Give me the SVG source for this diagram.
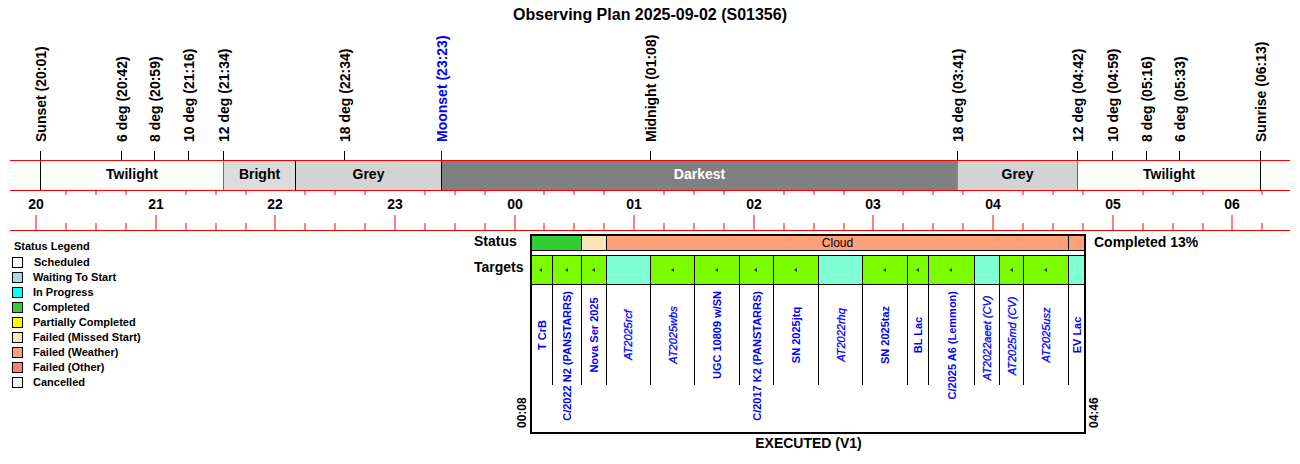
<svg xmlns="http://www.w3.org/2000/svg" width="1300" height="464" viewBox="0 0 1300 464">
<style>
text{font-family:"Liberation Sans",Arial,sans-serif;fill:#000}
.b{font-weight:bold}
.title{font-size:16px;font-weight:bold}
.ev{font-size:14px;font-weight:bold}
.hr{font-size:14px;font-weight:bold;text-anchor:middle}
.seg{font-size:14px;font-weight:bold;text-anchor:middle}
.lg{font-size:11px;font-weight:bold}
.tg{font-size:11px;font-weight:bold;fill:#0000FF;text-anchor:middle}
.at{font-size:11px;font-style:italic;fill:#0000FF;stroke:#0000FF;stroke-width:0.3;text-anchor:middle}
.red{stroke:#FF0000;stroke-width:1;fill:none}
.blk{stroke:#000;stroke-width:1;fill:none}
.cell{stroke:#000;stroke-width:1}
.lbox{stroke:#000;stroke-width:1}
.g{fill:#7CFC00}
.aq{fill:#7FFFD4}
.mk{fill:#333}
</style>

<text class="title" x="650" y="20" text-anchor="middle">Observing Plan 2025-09-02 (S01356)</text>

<g id="events">
  <g class="blk">
    <path d="M40.5 151V190M121.5 151V160M154.5 151V160M188.5 151V160M223.5 151V190M344.5 151V160M650.5 151V160M957.5 151V190M1077.5 151V190M1112.5 151V160M1146.5 151V160M1179.5 151V160M1260.5 151V190"/>
  </g>
  <path d="M441.5 151V160" stroke="#0000FF" stroke-width="1"/>
  <text class="ev" transform="translate(45.5,142) rotate(-90)">Sunset (20:01)</text>
  <text class="ev" transform="translate(126.5,142) rotate(-90)">6 deg (20:42)</text>
  <text class="ev" transform="translate(159.5,142) rotate(-90)">8 deg (20:59)</text>
  <text class="ev" transform="translate(193.5,142) rotate(-90)">10 deg (21:16)</text>
  <text class="ev" transform="translate(228.5,142) rotate(-90)">12 deg (21:34)</text>
  <text class="ev" transform="translate(349.5,142) rotate(-90)">18 deg (22:34)</text>
  <text class="ev" transform="translate(446.5,142) rotate(-90)" style="fill:#0000FF">Moonset (23:23)</text>
  <text class="ev" transform="translate(655.5,142) rotate(-90)">Midnight (01:08)</text>
  <text class="ev" transform="translate(962.5,142) rotate(-90)">18 deg (03:41)</text>
  <text class="ev" transform="translate(1082.5,142) rotate(-90)">12 deg (04:42)</text>
  <text class="ev" transform="translate(1117.5,142) rotate(-90)">10 deg (04:59)</text>
  <text class="ev" transform="translate(1151.5,142) rotate(-90)">8 deg (05:16)</text>
  <text class="ev" transform="translate(1184.5,142) rotate(-90)">6 deg (05:33)</text>
  <text class="ev" transform="translate(1265.5,142) rotate(-90)">Sunrise (06:13)</text>
</g>

<g id="sky-bar">
  <rect x="223.5" y="160" width="72" height="30" fill="#DCDCDC"/>
  <rect x="295.5" y="160" width="146" height="30" fill="#D3D3D3"/>
  <rect x="441.5" y="160" width="516" height="30" fill="#808080"/>
  <rect x="957.5" y="160" width="120" height="30" fill="#D3D3D3"/>
  <path class="blk" d="M295.5 160V190M441.5 160V190"/>
  <text class="seg" x="132" y="179">Twilight</text>
  <text class="seg" x="259.5" y="179">Bright</text>
  <text class="seg" x="368.5" y="179">Grey</text>
  <text class="seg" x="699.5" y="179" style="fill:#FFFFFF">Darkest</text>
  <text class="seg" x="1017.5" y="179">Grey</text>
  <text class="seg" x="1169" y="179">Twilight</text>
</g>

<g id="time-axis">
  <path class="red" d="M10 160.5H1290M10 190.5H1290M10 230.5H1290"/>
  <path class="red" d="M66 190V195M96 190V195M126 190V195M186 190V195M216 190V195M246 190V195M305 190V195M335 190V195M365 190V195M425 190V195M455 190V195M485 190V195M544 190V195M574 190V195M604 190V195M664 190V195M694 190V195M724 190V195M784 190V195M814 190V195M844 190V195M903 190V195M933 190V195M963 190V195M1023 190V195M1053 190V195M1083 190V195M1143 190V195M1173 190V195M1203 190V195M1262 190V195"/>
  <path class="red" d="M36 215V230M156 215V230M275 215V230M395 215V230M515 215V230M634 215V230M754 215V230M873 215V230M993 215V230M1113 215V230M1232 215V230"/>
  <path class="red" d="M66 223V230M96 223V230M126 223V230M186 223V230M216 223V230M246 223V230M305 223V230M335 223V230M365 223V230M425 223V230M455 223V230M485 223V230M544 223V230M574 223V230M604 223V230M664 223V230M694 223V230M724 223V230M784 223V230M814 223V230M844 223V230M903 223V230M933 223V230M963 223V230M1023 223V230M1053 223V230M1083 223V230M1143 223V230M1173 223V230M1203 223V230M1262 223V230"/>
  <text class="hr" x="36" y="209">20</text>
  <text class="hr" x="156" y="209">21</text>
  <text class="hr" x="275" y="209">22</text>
  <text class="hr" x="395" y="209">23</text>
  <text class="hr" x="515" y="209">00</text>
  <text class="hr" x="634" y="209">01</text>
  <text class="hr" x="754" y="209">02</text>
  <text class="hr" x="873" y="209">03</text>
  <text class="hr" x="993" y="209">04</text>
  <text class="hr" x="1113" y="209">05</text>
  <text class="hr" x="1232" y="209">06</text>
</g>

<g id="legend">
  <text class="lg" x="14" y="250">Status Legend</text>
  <g id="lg-scheduled"><rect class="lbox" x="12.5" y="257.5" width="10" height="10" fill="#FFFFFF"/><text class="lg" x="34" y="266">Scheduled</text></g>
  <g id="lg-waiting"><rect class="lbox" x="12.5" y="272.5" width="10" height="10" fill="#ADD8E6"/><text class="lg" x="33" y="281">Waiting To Start</text></g>
  <g id="lg-progress"><rect class="lbox" x="12.5" y="287.5" width="10" height="10" fill="#00FFFF"/><text class="lg" x="33" y="296">In Progress</text></g>
  <g id="lg-completed"><rect class="lbox" x="12.5" y="302.5" width="10" height="10" fill="#32CD32"/><text class="lg" x="33" y="311">Completed</text></g>
  <g id="lg-partial"><rect class="lbox" x="12.5" y="317.5" width="10" height="10" fill="#FFFF00"/><text class="lg" x="33" y="326">Partially Completed</text></g>
  <g id="lg-missed"><rect class="lbox" x="12.5" y="332.5" width="10" height="10" fill="#FFE4B5"/><text class="lg" x="33" y="341">Failed (Missed Start)</text></g>
  <g id="lg-weather"><rect class="lbox" x="12.5" y="347.5" width="10" height="10" fill="#FFA07A"/><text class="lg" x="33" y="356">Failed (Weather)</text></g>
  <g id="lg-other"><rect class="lbox" x="12.5" y="362.5" width="10" height="10" fill="#FA8072"/><text class="lg" x="33" y="371">Failed (Other)</text></g>
  <g id="lg-cancelled"><rect class="lbox" x="12.5" y="377.5" width="10" height="10" fill="#F5F5F5"/><text class="lg" x="33" y="386">Cancelled</text></g>
</g>

<g id="plan">
  <text class="ev" x="474" y="246">Status</text>
  <text class="ev" x="474" y="272">Targets</text>
  <text class="ev" x="1094" y="247">Completed 13%</text>
  <g id="status-row">
    <rect class="cell" x="531.5" y="235.5" width="50" height="15" fill="#32CD32"/>
    <rect class="cell" x="581.5" y="235.5" width="25" height="15" fill="#FFE4B5"/>
    <rect class="cell" x="606.5" y="235.5" width="462" height="15" fill="#FFA07A"/>
    <rect class="cell" x="1068.5" y="235.5" width="16" height="15" fill="#FFA07A"/>
    <text x="837.5" y="247" text-anchor="middle" style="font-size:12px">Cloud</text>
  </g>
  <g id="target-row">
    <rect class="cell g" x="531.5" y="255.5" width="21" height="29"/>
    <rect class="cell g" x="552.5" y="255.5" width="29" height="29"/>
    <rect class="cell g" x="581.5" y="255.5" width="25" height="29"/>
    <rect class="cell aq" x="606.5" y="255.5" width="44" height="29"/>
    <rect class="cell g" x="650.5" y="255.5" width="44" height="29"/>
    <rect class="cell g" x="694.5" y="255.5" width="45" height="29"/>
    <rect class="cell g" x="739.5" y="255.5" width="34" height="29"/>
    <rect class="cell g" x="773.5" y="255.5" width="45" height="29"/>
    <rect class="cell aq" x="818.5" y="255.5" width="44" height="29"/>
    <rect class="cell g" x="862.5" y="255.5" width="45" height="29"/>
    <rect class="cell g" x="907.5" y="255.5" width="21" height="29"/>
    <rect class="cell g" x="928.5" y="255.5" width="46" height="29"/>
    <rect class="cell aq" x="974.5" y="255.5" width="25" height="29"/>
    <rect class="cell g" x="999.5" y="255.5" width="24" height="29"/>
    <rect class="cell g" x="1023.5" y="255.5" width="45" height="29"/>
    <rect class="cell aq" x="1068.5" y="255.5" width="16" height="29"/>
    <g class="mk">
      <path d="M539 270L542 268V272Z"/>
      <path d="M565 270L568 268V272Z"/>
      <path d="M592 270L595 268V272Z"/>
      <path d="M671 270L674 268V272Z"/>
      <path d="M715 270L718 268V272Z"/>
      <path d="M754 270L757 268V272Z"/>
      <path d="M794 270L797 268V272Z"/>
      <path d="M883 270L886 268V272Z"/>
      <path d="M916 270L919 268V272Z"/>
      <path d="M949 270L952 268V272Z"/>
      <path d="M1010 270L1013 268V272Z"/>
      <path d="M1044 270L1047 268V272Z"/>
    </g>
  </g>
  <path class="blk" d="M552.5 285V385M581.5 285V385M606.5 285V385M650.5 285V385M694.5 285V385M739.5 285V385M773.5 285V385M818.5 285V385M862.5 285V385M907.5 285V385M928.5 285V385M974.5 285V385M999.5 285V385M1023.5 285V385M1068.5 285V385"/>
  <rect x="531" y="235" width="554" height="198" fill="none" stroke="#000" stroke-width="2"/>
  <g id="target-labels">
    <text class="tg" transform="translate(546,335) rotate(-90)">T CrB</text>
    <text class="tg" transform="translate(571,291) rotate(-90)" style="text-anchor:end">C/2022 N2 (PANSTARRS)</text>
    <text class="tg" transform="translate(598,335) rotate(-90)">Nova Ser 2025</text>
    <text class="at" transform="translate(632,335) rotate(-90)">AT2025rcf</text>
    <text class="at" transform="translate(676.5,335) rotate(-90)">AT2025wbs</text>
    <text class="tg" transform="translate(721,335) rotate(-90)">UGC 10809 w/SN</text>
    <text class="tg" transform="translate(760.5,291) rotate(-90)" style="text-anchor:end">C/2017 K2 (PANSTARRS)</text>
    <text class="tg" transform="translate(800,335) rotate(-90)">SN 2025jtq</text>
    <text class="at" transform="translate(844.5,335) rotate(-90)">AT2022rhq</text>
    <text class="tg" transform="translate(889,335) rotate(-90)">SN 2025taz</text>
    <text class="tg" transform="translate(922,335) rotate(-90)">BL Lac</text>
    <text class="tg" transform="translate(955.5,291) rotate(-90)" style="text-anchor:end">C/2025 A6 (Lemmon)</text>
    <text class="at" transform="translate(990.5,338) rotate(-90)">AT2022aeet (CV)</text>
    <text class="at" transform="translate(1015.5,336) rotate(-90)">AT2025md (CV)</text>
    <text class="at" transform="translate(1050,335) rotate(-90)">AT2025usz</text>
    <text class="tg" transform="translate(1081,335) rotate(-90)">EV Lac</text>
  </g>
  <text class="b" transform="translate(526,428) rotate(-90)" style="font-size:12px">00:08</text>
  <text class="b" transform="translate(1098,428) rotate(-90)" style="font-size:12px">04:46</text>
  <text class="ev" x="808.5" y="448" text-anchor="middle">EXECUTED (V1)</text>
</g>
</svg>
